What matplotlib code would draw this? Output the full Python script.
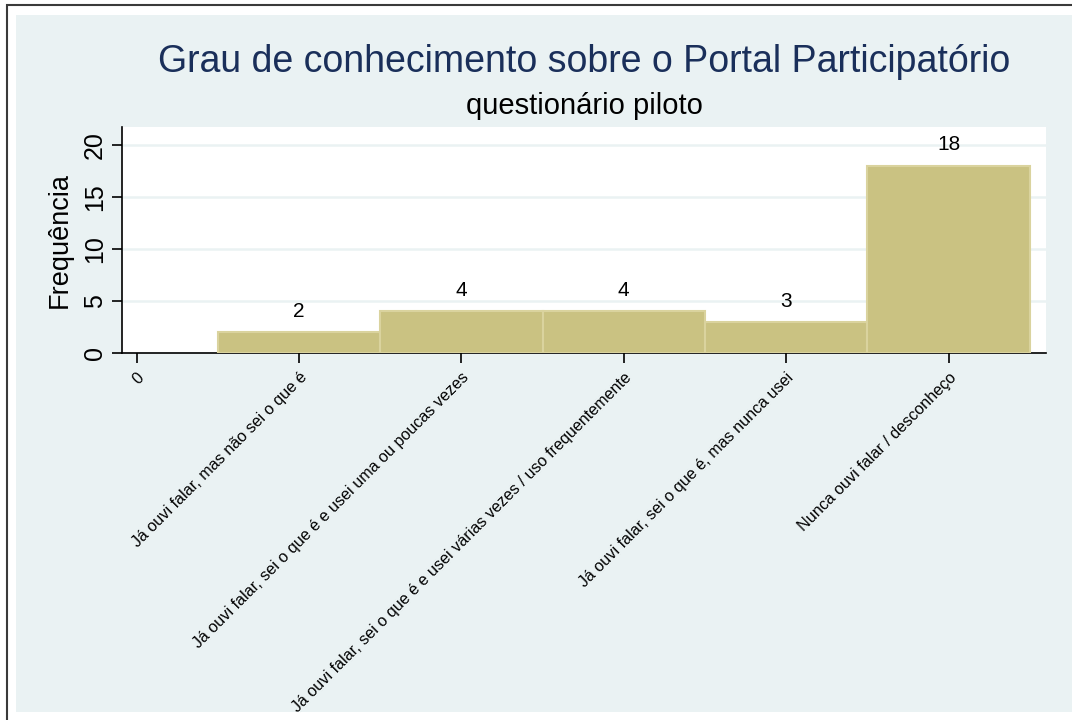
import matplotlib
matplotlib.use("Agg")
import matplotlib.pyplot as plt
from matplotlib.patches import Rectangle

plt.rcParams['font.family'] = ['Liberation Sans', 'DejaVu Sans']

# data
categories = [
    "Já ouvi falar, mas não sei o que é",
    "Já ouvi falar, sei o que é e usei uma ou poucas vezes",
    "Já ouvi falar, sei o que é e usei várias vezes / uso frequentemente",
    "Já ouvi falar, sei o que é, mas nunca usei",
    "Nunca ouvi falar / desconheço",
]
counts = [2, 4, 4, 3, 18]
yticks = [0, 5, 10, 15, 20]

bg = '#eaf2f3'
bar_fill = '#cac282'
bar_edge = '#dad39e'
navy = '#1a2f5a'

fig = plt.figure(figsize=(10.72, 7.2), dpi=100)
fig.patch.set_facecolor('white')

# outer frame (only left/top visible in the reference) and graph region
fig.patches.append(Rectangle((7 / 1072, -0.05), 1.2, 1 - 5 / 720 + 0.05,
                             transform=fig.transFigure, facecolor='white',
                             edgecolor='#3a3a3a', linewidth=1.5, zorder=-10))
fig.patches.append(Rectangle((16 / 1072, 1 - 712 / 720), 1.0, (712 - 15) / 720,
                             transform=fig.transFigure, facecolor=bg,
                             edgecolor='none', zorder=-9))

ax = fig.add_axes([122 / 1072, 1 - 353 / 720, (1046 - 122) / 1072, (353 - 127) / 720])
ax.set_facecolor('white')

xs = list(range(1, len(counts) + 1))
ax.bar(xs, counts, width=1.0, color=bar_fill, edgecolor=bar_edge, linewidth=1.5, zorder=3)
for x, c in zip(xs, counts):
    ax.annotate(str(c), (x, c), xytext=(0, 8), textcoords='offset points',
                ha='center', va='bottom', fontsize=15, color='black', zorder=4)

ax.set_xlim(-0.09, 5.6)
ax.set_ylim(0, 21.7)
ax.set_yticks(yticks)
ax.set_yticklabels([str(v) for v in yticks], rotation=90, va='center', fontsize=18)
ax.yaxis.grid(True, color=bg, linewidth=1.8, zorder=1)
ax.set_axisbelow(True)

ax.set_xticks([0] + xs)
ax.set_xticklabels(["0"] + categories, rotation=45, ha='right',
                   rotation_mode='anchor', fontsize=11.6)

for s in ['top', 'right']:
    ax.spines[s].set_visible(False)
for s in ['left', 'bottom']:
    ax.spines[s].set_color('black')
    ax.spines[s].set_linewidth(1.2)
ax.tick_params(axis='both', direction='out', length=7, width=1.2, colors='black')
ax.tick_params(axis='y', pad=4)
ax.tick_params(axis='x', pad=5)

ax.set_ylabel("Frequência", fontsize=19.5, labelpad=7)

fig.text(584 / 1072, 1 - 62 / 720, "Grau de conhecimento sobre o Portal Participatório",
         ha='center', va='center', fontsize=27, color=navy)
fig.text(584 / 1072, 1 - 106 / 720, "questionário piloto",
         ha='center', va='center', fontsize=21, color='black')

fig.savefig("out.png", dpi=100, facecolor=fig.get_facecolor())
